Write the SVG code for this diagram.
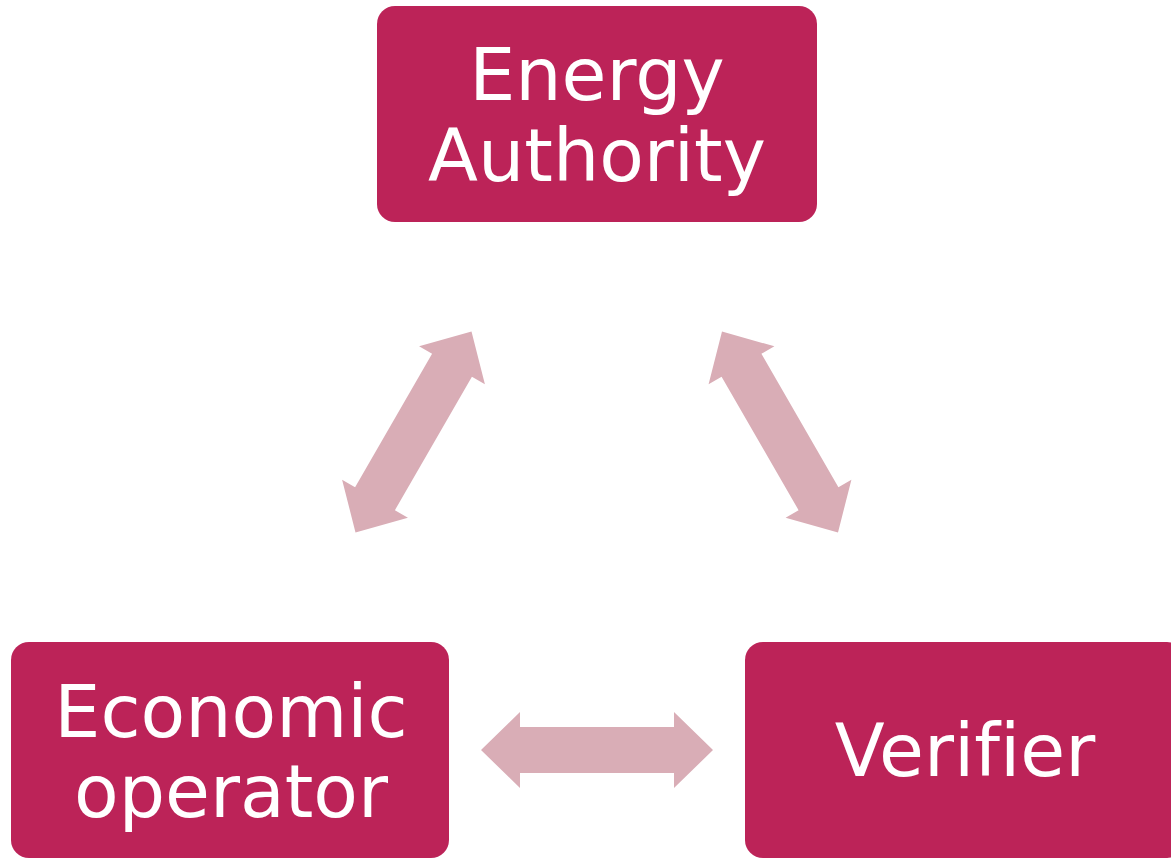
<svg xmlns="http://www.w3.org/2000/svg" xmlns:xlink="http://www.w3.org/1999/xlink" width="1171" height="859" viewBox="0 0 1171 859">
<style>
.box{fill:#BC2358;}
.lbl{fill:#FFFFFF;font-family:"DejaVu Sans","Verdana",sans-serif;font-size:73px;text-anchor:middle;font-variant-ligatures:none;}
.arr{fill:#D9ADB6;}
</style>
<defs>
<path id="dbl" d="M -116 0 L -77 -38 L -77 -23 L 77 -23 L 77 -38 L 116 0 L 77 38 L 77 23 L -77 23 L -77 38 Z"/>
</defs>
<rect width="1171" height="859" fill="#FFFFFF"/>
<g id="connectors">
<use xlink:href="#dbl" class="arr" transform="translate(413.5,432) rotate(-60)"/>
<use xlink:href="#dbl" class="arr" transform="translate(780,432) rotate(60)"/>
<use xlink:href="#dbl" class="arr" transform="translate(597,750)"/>
</g>
<g id="energy-authority">
<rect class="box" x="377" y="6" width="440" height="216" rx="18"/>
<text class="lbl" x="597" y="100">Energy</text>
<text class="lbl" x="597" y="181">Authority</text>
</g>
<g id="economic-operator">
<rect class="box" x="11" y="642" width="438" height="216" rx="18"/>
<text class="lbl" x="231" y="737">Economic</text>
<text class="lbl" x="231" y="817">operator</text>
</g>
<g id="verifier">
<rect class="box" x="745" y="642" width="440" height="216" rx="18"/>
<text class="lbl" x="965" y="776">Verifier</text>
</g>
</svg>
